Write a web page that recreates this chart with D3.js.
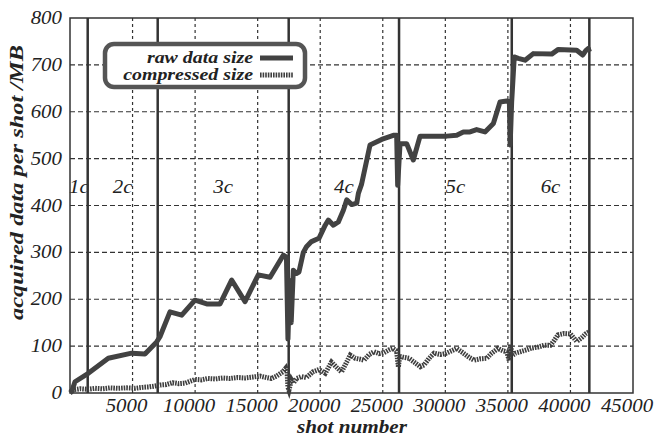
<!DOCTYPE html>
<meta charset="utf-8">
<script src="https://cdn.jsdelivr.net/npm/d3@7"></script>
<style>
body { margin: 0; background: #fff; }
</style>
<body>
<script>

// raw data size per shot (shot, MB)
var rawShots = [0,130,400,1460,3060,4930,5990,6930,7190,7990,8930,9990,10930,11990,12920,13990,15050,15990,17050,17300,17420,17560,17680,17850,18100,18300,18650,18900,19300,19900,20400,20650,21050,21450,21850,22120,22520,22920,23050,23300,23980,24910,25900,26110,26190,26380,26910,27440,27980,30110,30910,31440,31970,32500,33170,33840,34370,34900,35120,35180,35300,35510,35830,36370,37030,38500,39030,40500,40980,41240,41430,41520];
var rawSize  = [0,3,24,42,74,85,83,109,120,173,166,198,190,190,241,195,252,247,294,290,115,240,150,262,255,258,300,312,323,330,358,369,358,365,390,412,402,405,426,445,529,541,550,550,443,532,532,497,548,548,550,557,557,562,557,575,621,623,621,529,620,717,714,710,724,723,733,731,721,731,735,728];

// compressed size per shot
var compShots = [0,300,800,1400,2000,2600,3200,3800,4500,5200,5800,6300,6800,7200,7700,8200,8700,9200,9600,10000,10500,11000,11600,12200,12800,13400,14000,14600,15200,15700,16100,16500,17000,17250,17350,17420,17500,17700,17850,18100,18500,18900,19400,19900,20400,20900,21300,21700,22000,22400,22800,23200,23500,23900,24300,24700,25100,25500,25800,26100,26250,26350,26700,27100,27500,28000,28300,28700,29100,29600,30000,30500,30900,31400,31900,32300,32800,33300,33700,34200,34600,34900,35100,35200,35350,35600,36000,36500,36900,37400,37900,38400,38700,39000,39500,40000,40500,40900,41200,41500];
var compSize  = [2,7,9,8,10,9,11,10,11,10,12,13,15,17,18,22,20,21,25,29,28,31,30,32,31,33,32,34,36,33,31,36,45,53,45,12,6,28,21,31,35,33,45,50,42,66,55,45,60,81,74,72,70,82,88,84,86,92,95,90,55,78,76,74,66,56,60,74,85,82,84,90,95,86,76,70,73,74,85,95,90,88,70,103,80,85,88,92,96,98,102,102,112,124,127,126,110,118,126,131];

// campaign boundaries and names
var boundaries = [1415, 7010, 17480, 26300, 35310, 41510];
var campaigns = ["1c", "2c", "3c", "4c", "5c", "6c"];

var xTicks = [5000,10000,15000,20000,25000,30000,35000,40000,45000];
var yTicks = [0,100,200,300,400,500,600,700,800];

var width = 657, height = 437;
var plotLeft = 70, plotRight = 633, plotTop = 18, plotBottom = 393;
var serif = "'Liberation Serif', 'Times New Roman', serif";
var ink = "#222";

var svg = d3.select("body").append("svg")
    .attr("width", width)
    .attr("height", height)
    .attr("font-family", serif)
    .attr("font-style", "italic");

var x = d3.scaleLinear().domain([0, 45000]).range([plotLeft, plotRight]);
var y = d3.scaleLinear().domain([0, 800]).range([plotBottom, plotTop]);

// widen glyphs a bit, the scan is stretched sideways
function stretch(sel, k) {
  sel.each(function() {
    var len = this.getComputedTextLength();
    d3.select(this).attr("textLength", len * k).attr("lengthAdjust", "spacingAndGlyphs");
  });
}

// dashed grid, drawn as paths
var gridPath = "";
xTicks.slice(0, -1).forEach(function(d) {
  gridPath += "M" + x(d) + "," + plotTop + "V" + plotBottom;
});
svg.append("path")
    .attr("d", gridPath)
    .attr("fill", "none")
    .attr("stroke", "#333").attr("stroke-width", 1.2)
    .attr("stroke-dasharray", "3,3");
var gridPathY = "";
yTicks.slice(1, -1).forEach(function(d) {
  gridPathY += "M" + plotLeft + "," + y(d) + "H" + plotRight;
});
svg.append("path")
    .attr("d", gridPathY)
    .attr("fill", "none")
    .attr("stroke", "#333").attr("stroke-width", 1.2)
    .attr("stroke-dasharray", "5,3");

// frame
svg.append("rect")
    .attr("x", plotLeft).attr("y", plotTop)
    .attr("width", plotRight - plotLeft).attr("height", plotBottom - plotTop)
    .attr("fill", "none").attr("stroke", "#333").attr("stroke-width", 1.5);

// campaign labels
var mids = boundaries.map(function(b, i) { return ((i ? boundaries[i - 1] : 0) + b) / 2; });
svg.append("g").selectAll("text")
    .data(campaigns)
    .enter().append("text")
    .attr("x", function(d, i) { return x(mids[i]); })
    .attr("y", y(426))
    .attr("text-anchor", "middle")
    .attr("fill", ink)
    .attr("font-size", 19)
    .text(function(d) { return d; })
    .call(stretch, 1.1);

// campaign boundaries
svg.append("g").selectAll("line")
    .data(boundaries)
    .enter().append("line")
    .attr("x1", function(d) { return x(d); })
    .attr("x2", function(d) { return x(d); })
    .attr("y1", plotTop).attr("y2", plotBottom)
    .attr("stroke", "#333").attr("stroke-width", 2.5);

// series
var lineRaw = d3.line()
    .x(function(d, i) { return x(rawShots[i]); })
    .y(function(d) { return y(d); });
var lineComp = d3.line()
    .x(function(d, i) { return x(compShots[i]); })
    .y(function(d) { return y(d); });

svg.append("path")
    .attr("d", lineComp(compSize))
    .attr("fill", "none").attr("stroke", "#3e3e3e")
    .attr("stroke-width", 5).attr("stroke-dasharray", "1.6,1");

svg.append("path")
    .attr("d", lineRaw(rawSize))
    .attr("fill", "none").attr("stroke", "#424242")
    .attr("stroke-width", 5).attr("stroke-linejoin", "round");

// tick labels from the scales
svg.append("g").selectAll("text")
    .data(xTicks)
    .enter().append("text")
    .attr("x", function(d) { return x(d) - 6; })
    .attr("y", plotBottom + 19)
    .attr("text-anchor", "middle")
    .attr("fill", ink)
    .attr("font-size", 19)
    .text(function(d) { return d; })
    .call(stretch, 1.1);

svg.append("g").selectAll("text")
    .data(yTicks)
    .enter().append("text")
    .attr("x", plotLeft - 8)
    .attr("y", function(d) { return y(d) + 6; })
    .attr("text-anchor", "end")
    .attr("fill", ink)
    .attr("font-size", 19)
    .text(function(d) { return d; })
    .call(stretch, 1.1);

// axis titles
svg.append("text")
    .attr("x", 352).attr("y", 433)
    .attr("text-anchor", "middle")
    .attr("fill", ink)
    .attr("font-size", 19).attr("font-weight", "bold")
    .attr("textLength", 110).attr("lengthAdjust", "spacingAndGlyphs")
    .text("shot number");

svg.append("text")
    .attr("transform", "translate(23," + ((plotTop + plotBottom) / 2 - 23) + ") rotate(-90)")
    .attr("text-anchor", "middle")
    .attr("fill", ink)
    .attr("font-size", 19).attr("font-weight", "bold")
    .attr("textLength", 275).attr("lengthAdjust", "spacingAndGlyphs")
    .text("acquired data per shot /MB");

// legend
var legend = svg.append("g");
legend.append("rect")
    .attr("x", 105).attr("y", 44).attr("width", 200).attr("height", 43)
    .attr("rx", 9).attr("fill", "#fff")
    .attr("stroke", "#555").attr("stroke-width", 4.5);

var entries = [
  {name: "raw data size", dash: null, color: "#424242"},
  {name: "compressed size", dash: "1.6,1", color: "#3e3e3e"}
];
entries.forEach(function(e, i) {
  var yy = 63 + i * 17;
  legend.append("text")
      .attr("x", 253).attr("y", yy)
      .attr("text-anchor", "end")
      .attr("fill", ink)
      .attr("font-size", 17).attr("font-weight", "bold")
      .text(e.name)
      .call(stretch, 1.17);
  legend.append("line")
      .attr("x1", 260).attr("x2", 293)
      .attr("y1", yy - 5).attr("y2", yy - 5)
      .attr("stroke", e.color).attr("stroke-width", 5)
      .attr("stroke-dasharray", e.dash);
});

</script>
</body>
</html>
